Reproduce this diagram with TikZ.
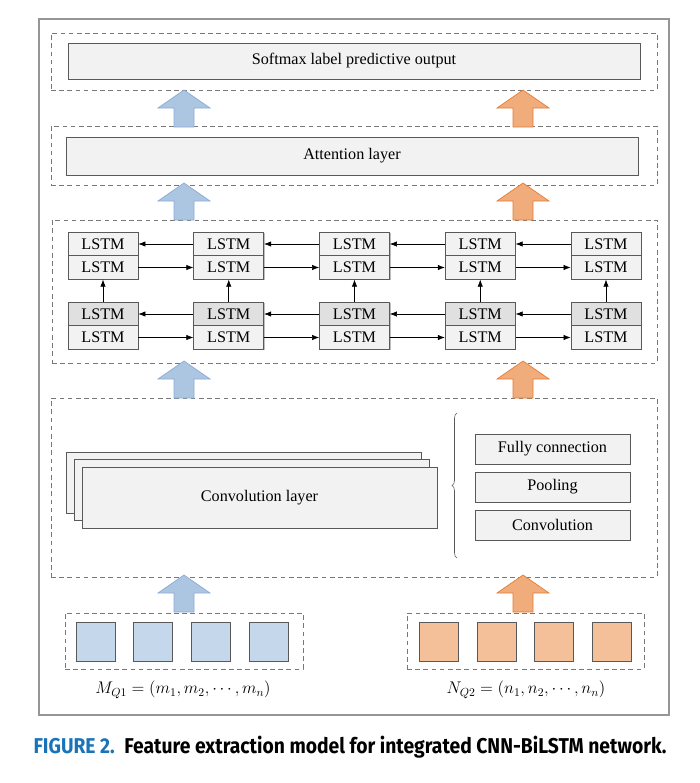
\documentclass[tikz,border=0pt]{standalone}
\usepackage{fontspec}
\setmainfont{Liberation Serif}
\newfontfamily\capfont{Fira Sans}
\usetikzlibrary{arrows.meta,fit,shadows,decorations.pathreplacing}

\definecolor{boxfill}{RGB}{242,242,242}
\definecolor{boxdark}{RGB}{224,224,224}
\definecolor{boxline}{RGB}{89,89,89}
\definecolor{grpline}{RGB}{120,120,120}
\definecolor{framecol}{RGB}{150,150,150}
\definecolor{arrblue}{RGB}{172,198,226}
\definecolor{arrblueline}{RGB}{140,170,215}
\definecolor{arrorange}{RGB}{240,172,122}
\definecolor{arrorangeline}{RGB}{228,125,55}
\definecolor{sqblue}{RGB}{197,216,235}
\definecolor{sqorange}{RGB}{244,192,154}
\definecolor{capblue}{RGB}{25,115,185}

\begin{document}
\begin{tikzpicture}[x=0.03cm,y=-0.03cm,font=\fontsize{13.8}{16}\selectfont,
  box/.style={draw=boxline,fill=boxfill,inner sep=0pt,line width=0.6pt,
    drop shadow={shadow xshift=1pt,shadow yshift=-1pt,fill=black!25,opacity=1}},
  grp/.style={draw=grpline,dash pattern=on 4pt off 3pt,inner sep=0pt,line width=0.6pt},
  lstm/.style={box,minimum width=2.1cm,minimum height=0.705cm},
  sq/.style={draw=boxline,line width=0.7pt,minimum size=1.17cm,inner sep=0pt},
  link/.style={-{Latex[length=6pt,width=4.5pt]},line width=0.5pt},
  upblock/.pic={\path[pic actions] (-10,0) -- (-10,-19) -- (-26,-19) -- (0,-37) -- (26,-19) -- (10,-19) -- (10,0) -- cycle;}]

\useasboundingbox (0,0) rectangle (699,783);

\node[fit={(39,19) (669,715)},draw=framecol,line width=1pt,inner sep=0pt] (frame) {};

\node[grp,fit={(51,33) (657,90)}] (gsoft) {};
\node[box,fit={(68,43) (640,79)},label=center:Softmax label predictive output] (soft) {};
\node[grp,fit={(51,126) (657,185)}] (gatt) {};
\node[box,fit={(66,137) (638,175)},label=center:Attention layer] (att) {};

\node[grp,fit={(52,220) (657,363)}] (glstm) {};
\foreach \i in {0,...,4} {
  \node[lstm] (ub\i) at (103+125.75*\i,244) {LSTM};
  \node[lstm] (uf\i) at (103+125.75*\i,267.5) {LSTM};
  \node[lstm,fill=boxdark] (lb\i) at (103+125.75*\i,314) {LSTM};
  \node[lstm] (lf\i) at (103+125.75*\i,337.5) {LSTM};
  \path[link] (lb\i) edge (uf\i);
}
\foreach \i [remember=\i as \p (initially 0)] in {1,...,4}
  \path[link] (ub\i) edge (ub\p) (uf\p) edge (uf\i) (lb\i) edge (lb\p) (lf\p) edge (lf\i);

\node[grp,fit={(51,398) (657,577)}] (gconv) {};
\node[box,fit={(66,452) (421,513)}] (sheet3) {};
\node[box,fit={(74,459) (429,520)}] (sheet2) {};
\node[box,fit={(82,467) (437,528)},label=center:Convolution layer] (conv) {};
\draw[boxline,line width=0.5pt,decorate,decoration={brace,amplitude=0.15cm}] (457,558) -- (457,413);
\node[box,fit={(475,434) (630,464)},label=center:Fully connection] (fully) {};
\node[box,fit={(475,472) (630,502)},label=center:Pooling] (pool) {};
\node[box,fit={(475,510) (630,540)},label=center:Convolution] (cnv) {};

\node[grp,fit={(65,613) (303,669)}] (gm) {};
\node[grp,fit={(407,613) (644,669)}] (gn) {};
\foreach \i in {0,...,3} {
  \node[sq,fill=sqblue] (m\i) at (95.5+57.7*\i,641.5) {};
  \node[sq,fill=sqorange] (n\i) at (439+57.7*\i,641.5) {};
}
\node (mq) at (183,690) {$M_{Q1}=\left(m_1,m_2,\cdots,m_n\right)$};
\node (nq) at (526,690) {$N_{Q2}=\left(n_1,n_2,\cdots,n_n\right)$};

\foreach \y in {127,220,398,612} {
  \pic[draw=arrblueline,fill=arrblue,line width=0.6pt] at (184,\y) {upblock};
  \pic[draw=arrorangeline,fill=arrorange,line width=0.6pt] at (523,\y) {upblock};
}

\node (cap) at (350,747) {\scalebox{0.9}[1]{\capfont\bfseries\fontsize{18.3}{21}\selectfont\textcolor{capblue}{FIGURE 2.}\hspace{0.5em}Feature extraction model for integrated CNN-BiLSTM network.}};

\end{tikzpicture}
\end{document}
